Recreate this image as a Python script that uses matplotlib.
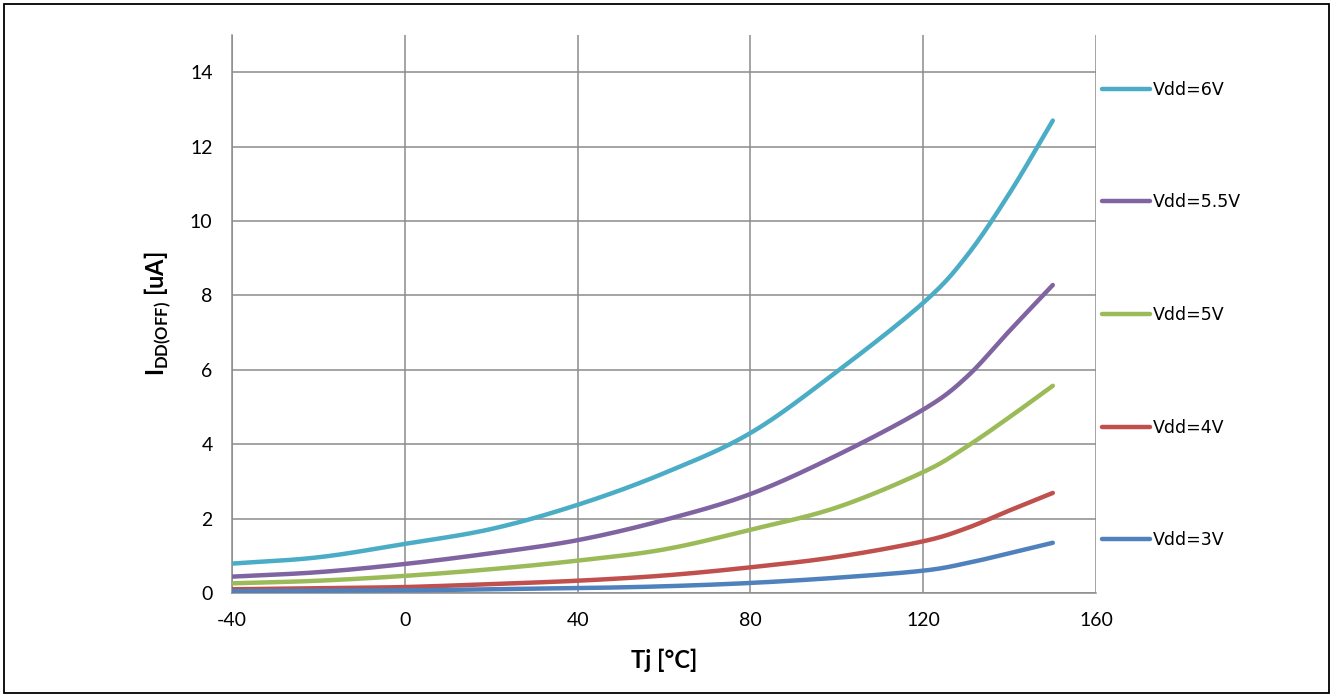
import matplotlib
matplotlib.use("Agg")
import matplotlib.pyplot as plt
import numpy as np
from matplotlib.patches import Rectangle

# Tj [°C] sample points
tj = [-40, -20, 0, 20, 40, 60, 80, 100, 120, 130, 140, 150]

idd_6v = [0.79, 0.96, 1.32, 1.72, 2.37, 3.22, 4.30, 5.95, 7.80, 9.05, 10.75, 12.70]
idd_55v = [0.44, 0.56, 0.78, 1.07, 1.42, 1.96, 2.66, 3.70, 4.93, 5.80, 7.05, 8.28]
idd_5v = [0.26, 0.33, 0.46, 0.64, 0.87, 1.17, 1.70, 2.30, 3.25, 3.93, 4.73, 5.57]
idd_4v = [0.10, 0.13, 0.16, 0.24, 0.33, 0.47, 0.69, 0.97, 1.39, 1.74, 2.22, 2.69]
idd_3v = [0.05, 0.06, 0.07, 0.10, 0.13, 0.18, 0.27, 0.41, 0.60, 0.80, 1.07, 1.35]

labels = ["Vdd=6V", "Vdd=5.5V", "Vdd=5V", "Vdd=4V", "Vdd=3V"]
colors = ["#4BACC6", "#8064A2", "#9BBB59", "#C0504D", "#4F81BD"]

x_ticks = [-40, 0, 40, 80, 120, 160]
y_ticks = [0, 2, 4, 6, 8, 10, 12, 14]


# Excel style "smoothed line": Catmull-Rom rendering through the points
def smooth(x, y, n=20):
    x = np.asarray(x, float)
    y = np.asarray(y, float)
    px = np.concatenate([[2 * x[0] - x[1]], x, [2 * x[-1] - x[-2]]])
    py = np.concatenate([[2 * y[0] - y[1]], y, [2 * y[-1] - y[-2]]])
    xs, ys = [], []
    t = np.linspace(0, 1, n, endpoint=False)
    for i in range(1, len(px) - 2):
        for p, out in ((px, xs), (py, ys)):
            p0, p1, p2, p3 = p[i - 1], p[i], p[i + 1], p[i + 2]
            out.extend(0.5 * (2 * p1 + (-p0 + p2) * t
                              + (2 * p0 - 5 * p1 + 4 * p2 - p3) * t ** 2
                              + (-p0 + 3 * p1 - 3 * p2 + p3) * t ** 3))
    xs.append(x[-1])
    ys.append(y[-1])
    return xs, ys


plt.rcParams['mathtext.fontset'] = 'custom'
plt.rcParams['mathtext.bf'] = 'Lato:bold'
plt.rcParams['mathtext.rm'] = 'Lato'
plt.rcParams['axes.unicode_minus'] = False

fig = plt.figure(figsize=(13.34, 6.96), dpi=100)
ax = fig.add_axes([0.1739, 0.148, 0.6477, 0.8017])

series = [idd_6v, idd_55v, idd_5v, idd_4v, idd_3v]
for vals, lab, col in zip(series, labels, colors):
    sx, sy = smooth(tj, vals)
    ax.plot(sx, sy, color=col, lw=3.2, label=lab,
            solid_capstyle='round', solid_joinstyle='round', zorder=3)

ax.set_xlim(-40, 160)
ax.set_ylim(0, 15)
ax.set_xticks(x_ticks)
ax.set_yticks(y_ticks)
ax.grid(True, color='#8c8c8c', lw=1.1)
ax.set_axisbelow(True)

for side in ['top', 'right']:
    ax.spines[side].set_visible(False)
for side in ['left', 'bottom']:
    ax.spines[side].set_color('#8c8c8c')
    ax.spines[side].set_linewidth(1.1)

ax.tick_params(length=0, labelsize=14, pad=14)
for t in ax.get_xticklabels() + ax.get_yticklabels():
    t.set_fontfamily('Lato')

ax.set_xlabel('Tj [°C]', fontsize=17, fontweight='bold', family='Lato', labelpad=14)
ax.set_ylabel(r'$\mathbf{I}_{\mathbf{DD(OFF)}}$ [uA]', fontsize=17, fontweight='bold',
              family='Lato', labelpad=12)

# legend on the right, one entry next to each band
ax.legend(loc='center left', bbox_to_anchor=(1102 / 1334, 1 - 315 / 696),
          bbox_transform=fig.transFigure, frameon=False, fontsize=12.5,
          handlelength=2.75, handletextpad=0.2, labelspacing=5.45,
          borderpad=0, borderaxespad=0)

# outer frame of the chart
fig.patches.append(Rectangle((4 / 1334, 3 / 696), 1325 / 1334, 689 / 696,
                             transform=fig.transFigure, fill=False,
                             edgecolor='black', lw=1.3))

fig.savefig('out.png', dpi=100)
